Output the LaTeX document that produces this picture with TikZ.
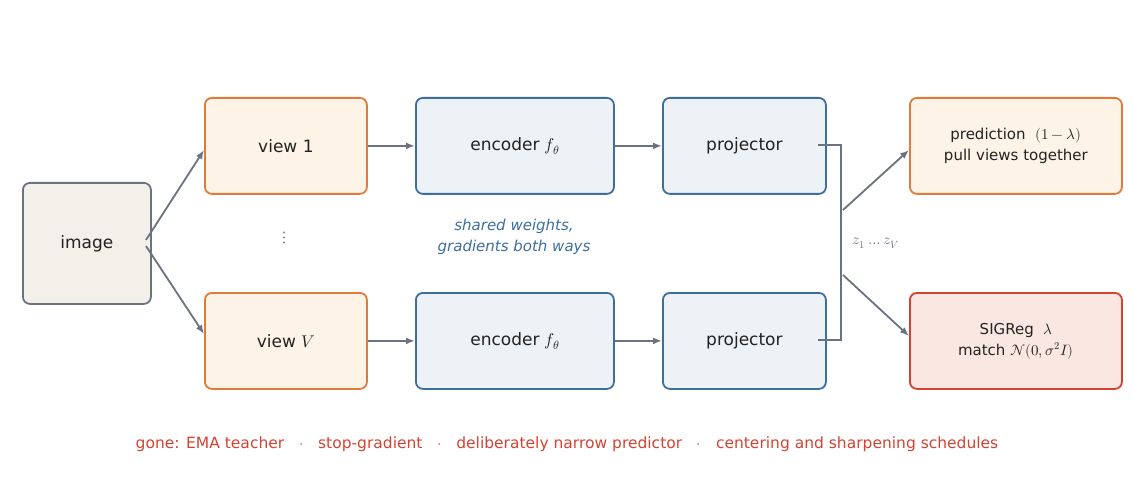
\documentclass[tikz,border=0pt]{standalone}
\usepackage{fontspec}
\setmainfont{DejaVu Sans}
\usepackage{unicode-math}
\setmathfont{Latin Modern Math}
\usetikzlibrary{arrows.meta}
\definecolor{gr}{HTML}{6B7280}
\definecolor{ob}{HTML}{E07B39}\definecolor{of}{HTML}{FDF3E7}
\definecolor{bb}{HTML}{3D6E9E}\definecolor{bf}{HTML}{EDF2F7}
\definecolor{ib}{HTML}{6B7280}\definecolor{iff}{HTML}{F3EFE9}
\definecolor{rb}{HTML}{D44332}\definecolor{rf}{HTML}{FBE7E2}
\definecolor{tx}{HTML}{222222}
\begin{document}
\begin{tikzpicture}[x=1pt,y=-1pt,
 box/.style={draw,line width=1.8pt,rounded corners=7pt,anchor=north west,align=center,text=tx,font=\fontsize{17}{20}\selectfont,inner sep=0pt},
 ar/.style={draw=gr,line width=1.8pt,-{Latex[length=9pt,width=7pt]}}]
\useasboundingbox (0,0) rectangle (1134,486);
\node[box,draw=ib,fill=iff,minimum width=128pt,minimum height=121pt] (img) at (22,182) {image};
\node[box,draw=ob,fill=of,minimum width=162pt,minimum height=96pt] (v1) at (204,97) {view 1};
\node[box,draw=ob,fill=of,minimum width=162pt,minimum height=96pt] (vV) at (204,292) {view $V$};
\node[box,draw=bb,fill=bf,minimum width=198pt,minimum height=96pt] (e1) at (415,97) {encoder $f_\theta$};
\node[box,draw=bb,fill=bf,minimum width=198pt,minimum height=96pt] (eV) at (415,292) {encoder $f_\theta$};
\node[box,draw=bb,fill=bf,minimum width=163pt,minimum height=96pt] (p1) at (662,97) {projector};
\node[box,draw=bb,fill=bf,minimum width=163pt,minimum height=96pt] (pV) at (662,292) {projector};
\node[box,draw=ob,fill=of,minimum width=212pt,minimum height=96pt,font=\fontsize{15}{21}\selectfont] (pr) at (909,97) {prediction \ $(1-\lambda)$\\pull views together};
\node[box,draw=rb,fill=rf,minimum width=212pt,minimum height=96pt,font=\fontsize{15}{21}\selectfont] (sg) at (909,292) {SIGReg \ $\lambda$\\match $\mathcal{N}(0,\sigma^2 I)$};
\coordinate (s1) at (146,240); \coordinate (s2) at (146,246);
\draw[ar] (s1) -- (v1.west |- 0,150);
\draw[ar] (s2) -- (vV.west |- 0,334);
\draw[ar] (v1.east) -- (e1.west);
\draw[ar] (vV.east) -- (eV.west);
\draw[ar] (e1.east) -- (p1.west);
\draw[ar] (eV.east) -- (pV.west);
\coordinate (b1) at (818,145); \coordinate (b2) at (818,340);
\draw[gr,line width=1.8pt] (b1) -- (841,145) -- (841,340) -- (b2);
\coordinate (a1) at (843,210); \coordinate (a2) at (843,275);
\draw[ar] (a1) -- (pr.west |- 0,150);
\draw[ar] (a2) -- (sg.west |- 0,336);
\node[text=gr,font=\fontsize{15}{18}\selectfont] (z) at (876,243) {$z_1\ldots z_V$};
\node[text=gr,font=\fontsize{18}{18}\selectfont] (dots) at (284,238) {$\vdots$};
\node[text=bb,align=center,font=\fontsize{15}{21}\selectfont\itshape] (sw) at (514,237) {shared weights,\\gradients both ways};
\node[text=rb,font=\fontsize{15.5}{18}\selectfont] (gone) at (567,444) {gone: EMA teacher \ \ $\cdot$ \ \ stop-gradient \ \ $\cdot$ \ \ deliberately narrow predictor \ \ $\cdot$ \ \ centering and sharpening schedules};
\end{tikzpicture}
\end{document}
